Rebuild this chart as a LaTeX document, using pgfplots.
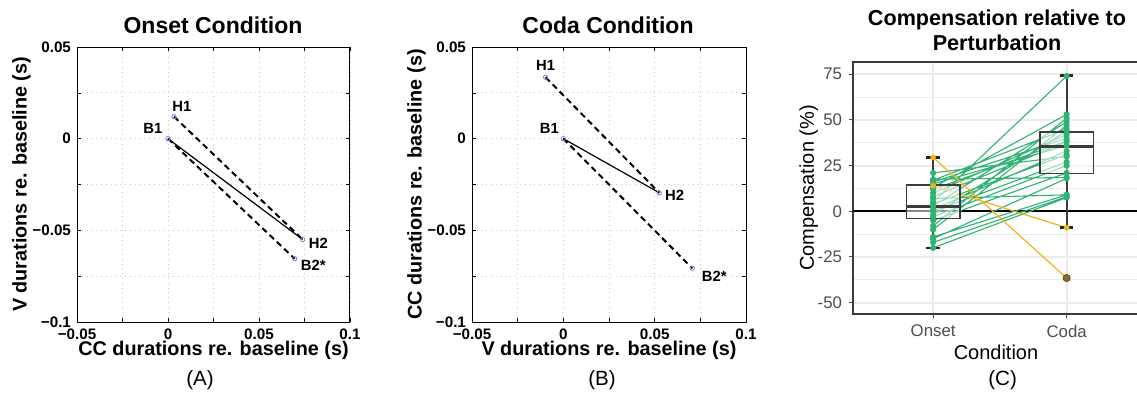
\documentclass[border=0pt]{standalone}
\usepackage{fontspec}
\setmainfont{Liberation Sans}
\usepackage{pgfplots}
\pgfplotsset{compat=1.18}
\definecolor{ptblue}{RGB}{120,130,215}
\definecolor{sgreen}{RGB}{48,178,115}
\definecolor{syellow}{RGB}{242,178,28}
\definecolor{sbrown}{RGB}{140,110,40}
\definecolor{ggrid}{RGB}{235,235,235}
\definecolor{gtick}{RGB}{77,77,77}
\definecolor{gbox}{RGB}{60,60,60}
\tikzset{ptlbl/.style={font=\bfseries\fontsize{7.4}{8.5}\selectfont, anchor=center}}
\begin{document}
\begin{tikzpicture}
\pgfplotsset{
  matlabstyle/.style={
    scale only axis, anchor=south west,
    xmin=-0.05, xmax=0.1, ymin=-0.1, ymax=0.05,
    xtick={-0.05,0,0.05,0.1}, xticklabels={−0.05,0,0.05,0.1},
    ytick={-0.1,-0.05,0,0.05}, yticklabels={−0.1,−0.05,0,0.05},
    minor xtick={-0.025,0.025,0.075}, minor ytick={-0.075,-0.025,0.025},
    grid=both, major grid style={gray!45, dotted, line width=0.4pt},
    minor grid style={gray!45, dotted, line width=0.4pt},
    tick align=inside, major tick length=2pt, minor tick length=2pt,
    tick style={black, line width=0.3pt},
    axis line style={line width=0.5pt},
    ticklabel style={font=\bfseries\fontsize{7.6}{8.5}\selectfont},
    xticklabel style={yshift=0pt},
    yticklabel style={xshift=0.5pt},
    label style={font=\bfseries\fontsize{9.9}{11}\selectfont},
    xlabel style={yshift=6pt},
    ylabel style={yshift=-6pt},
  },
}
% ---------------- Panel A ----------------
\begin{axis}[matlabstyle, at={(38.5pt,40.5pt)}, width=136.5pt, height=137.5pt,
  xlabel={CC durations re. baseline (s)}, ylabel={V durations re. baseline (s)}]
\addplot[black, line width=1pt, dash pattern=on 3pt off 2pt] coordinates {(0.0033,0.012) (0.074,-0.055)};
\addplot[black, line width=1pt, dash pattern=on 3pt off 2pt] coordinates {(0,0) (0.0696,-0.0655)};
\addplot[black, line width=0.6pt] coordinates {(0,0) (0.074,-0.055)};
\addplot[only marks, mark=o, mark size=1.1pt, ptblue, mark options={line width=0.4pt}] coordinates {(0,0) (0.0033,0.012) (0.074,-0.055) (0.0696,-0.0655)};
\node[ptlbl, xshift=3.9pt, yshift=5pt] at (axis cs:0.0033,0.012) {H1};
\node[ptlbl, xshift=-7.6pt, yshift=4.9pt] at (axis cs:0,0) {B1};
\node[ptlbl, xshift=7.8pt, yshift=-1.7pt] at (axis cs:0.074,-0.055) {H2};
\node[ptlbl, xshift=9.3pt, yshift=-3.1pt] at (axis cs:0.0696,-0.0655) {B2*};
\end{axis}
% ---------------- Panel B ----------------
\begin{axis}[matlabstyle, at={(236pt,40.5pt)}, width=137pt, height=137.5pt,
  xlabel={V durations re. baseline (s)}, ylabel={CC durations re. baseline (s)}]
\addplot[black, line width=1pt, dash pattern=on 3pt off 2pt] coordinates {(-0.0097,0.0335) (0.0525,-0.0295)};
\addplot[black, line width=1pt, dash pattern=on 3pt off 2pt] coordinates {(0,0) (0.0706,-0.0707)};
\addplot[black, line width=0.6pt] coordinates {(0,0) (0.0525,-0.0295)};
\addplot[only marks, mark=o, mark size=1.1pt, ptblue, mark options={line width=0.4pt}] coordinates {(0,0) (-0.0097,0.0335) (0.0525,-0.0295) (0.0706,-0.0707)};
\node[ptlbl, yshift=6.1pt] at (axis cs:-0.0097,0.0335) {H1};
\node[ptlbl, xshift=-7pt, yshift=5.3pt] at (axis cs:0,0) {B1};
\node[ptlbl, xshift=7.7pt, yshift=-1.2pt] at (axis cs:0.0525,-0.0295) {H2};
\node[ptlbl, xshift=11pt, yshift=-3.8pt] at (axis cs:0.0706,-0.0707) {B2*};
\end{axis}
% ---------------- Panel C ----------------
\begin{axis}[scale only axis, anchor=south west, at={(426.5pt,44.5pt)}, width=143pt, height=126pt,
  xmin=0.4, xmax=2.542, ymin=-56.2, ymax=81.7,
  xtick={1,2}, xticklabels={Onset,Coda},
  ytick={-50,-25,0,25,50,75}, yticklabels={-50,-25,0,25,50,75},
  minor ytick={-37.5,-12.5,12.5,37.5,62.5},
  xmajorgrids, ymajorgrids, yminorgrids,
  major grid style={ggrid, line width=1pt},
  minor grid style={ggrid, line width=0.5pt},
  axis line style={gbox, line width=0.6pt},
  tick align=outside, major tick length=2pt, minor tick length=0pt,
  tick style={gtick, line width=0.5pt},
  xtick pos=bottom, ytick pos=left,
  ticklabel style={font=\fontsize{8.4}{10}\selectfont, text=gtick},
  label style={font=\fontsize{10}{12}\selectfont},
  xlabel={Condition}, ylabel={Compensation (\%)},
  xlabel style={yshift=3pt}, ylabel style={yshift=-7pt},
  unbounded coords=jump]
\addplot[black, line width=0.9pt] coordinates {(0.4,0) (2.542,0)};
% green participants (Onset -> Coda)
\addplot[sgreen, line width=0.55pt, mark=*, mark size=1.25pt, mark options={draw=sgreen, fill=sgreen}] coordinates {
(1,21) (2,30) (1.5,nan)
(1,17) (2,45) (1.5,nan)
(1,17.5) (2,18.5) (1.5,nan)
(1,16) (2,40) (1.5,nan)
(1,15) (2,36) (1.5,nan)
(1,13) (2,53) (1.5,nan)
(1,10) (2,42) (1.5,nan)
(1,8) (2,38) (1.5,nan)
(1,5) (2,74) (1.5,nan)
(1,3) (2,49) (1.5,nan)
(1,1) (2,33) (1.5,nan)
(1,0) (2,27) (1.5,nan)
(1,-2) (2,44) (1.5,nan)
(1,-3) (2,25) (1.5,nan)
(1,-5) (2,21) (1.5,nan)
(1,-8) (2,51) (1.5,nan)
(1,-10) (2,47) (1.5,nan)
(1,-14) (2,9) (1.5,nan)
(1,-15) (2,18) (1.5,nan)
(1,-17) (2,8) (1.5,nan)
(1,-20) (2,7.5) (1.5,nan)
(1,7) (2,9) (1.5,nan)
(1,12) (2,38.5) (1.5,nan)
(1,4) (2,31)
};
% yellow participants
\addplot[syellow, line width=0.6pt, mark=*, mark size=1.1pt, mark options={draw=syellow, fill=syellow}] coordinates {
(1,29.5) (2,-36.5) (1.5,nan)
(1,14) (2,-9)
};
% whiskers (error bars)
\addplot[gbox, line width=0.9pt] coordinates {(1,-19.9) (1,29.4)};
\addplot[black!85, line width=1.1pt] coordinates {(0.95,29.4) (1.05,29.4)};
\addplot[black!85, line width=1.1pt] coordinates {(0.95,-19.9) (1.05,-19.9)};
\addplot[gbox, line width=0.9pt] coordinates {(2,-8.9) (2,74.3)};
\addplot[black!85, line width=1.1pt] coordinates {(1.95,74.3) (2.05,74.3)};
\addplot[black!85, line width=1.1pt] coordinates {(1.95,-8.9) (2.05,-8.9)};
% boxes
\addplot[gbox, line width=0.8pt, fill=white, fill opacity=0.55] coordinates {(0.8,-4) (1.2,-4) (1.2,14.4) (0.8,14.4) (0.8,-4)};
\addplot[gbox, line width=1.5pt] coordinates {(0.8,2.9) (1.2,2.9)};
\addplot[gbox, line width=0.8pt, fill=white, fill opacity=0.55] coordinates {(1.8,20.6) (2.2,20.6) (2.2,43.4) (1.8,43.4) (1.8,20.6)};
\addplot[gbox, line width=1.5pt] coordinates {(1.8,35.6) (2.2,35.6)};
% outlier
\addplot[only marks, mark=*, mark size=1.8pt, mark options={draw=sbrown!70!black, fill=sbrown}] coordinates {(2,-36.5)};
\end{axis}
% titles and panel letters
\node[font=\bfseries\fontsize{11.5}{13}\selectfont] at (106.5pt,189pt) {Onset Condition};
\node[font=\bfseries\fontsize{11.5}{13}\selectfont] at (304pt,189pt) {Coda Condition};
\node[font=\bfseries\fontsize{10.8}{12}\selectfont] at (498.5pt,191.5pt) {Compensation relative to};
\node[font=\bfseries\fontsize{10.8}{12}\selectfont] at (498.5pt,180.2pt) {Perturbation};
\node[font=\fontsize{10.3}{12}\selectfont] at (100pt,11.5pt) {(A)};
\node[font=\fontsize{10.3}{12}\selectfont] at (301pt,11.5pt) {(B)};
\node[font=\fontsize{10.3}{12}\selectfont] at (501.3pt,11.5pt) {(C)};
\pgfresetboundingbox
\useasboundingbox (0,0) rectangle (568.5pt,201.5pt);
\end{tikzpicture}
\end{document}
